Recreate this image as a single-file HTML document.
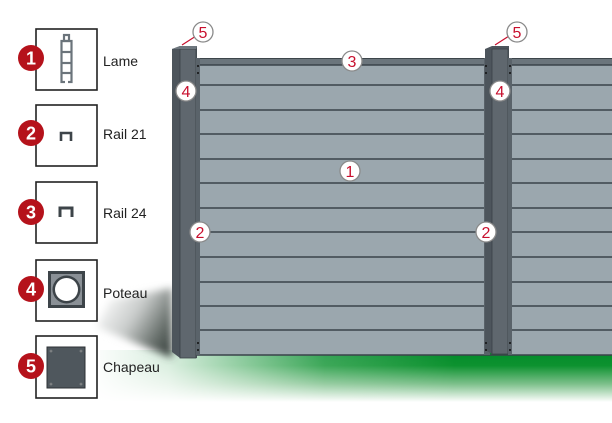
<!DOCTYPE html>
<html><head><meta charset="utf-8"><style>
html,body{margin:0;padding:0;background:#fff;}
svg{display:block;font-family:"Liberation Sans",Arial,sans-serif;}
</style></head><body>
<svg width="612" height="423" viewBox="0 0 612 423" xmlns="http://www.w3.org/2000/svg">
<defs>
<linearGradient id="gv" x1="0" y1="0" x2="0" y2="1">
<stop offset="0" stop-color="#008a2a"/><stop offset="0.3" stop-color="#0d922f"/><stop offset="0.65" stop-color="#7cc08a"/><stop offset="1" stop-color="#ffffff"/>
</linearGradient>
<linearGradient id="gh" x1="0" y1="0" x2="1" y2="0">
<stop offset="0" stop-color="#fff"/><stop offset="0.15" stop-color="#fff" stop-opacity="0.85"/><stop offset="0.45" stop-color="#fff" stop-opacity="0.2"/><stop offset="0.7" stop-color="#fff" stop-opacity="0"/>
</linearGradient>
<linearGradient id="sh" x1="0" y1="0.2" x2="1" y2="0.8">
<stop offset="0" stop-color="#ffffff"/><stop offset="0.45" stop-color="#c9cccb"/><stop offset="0.8" stop-color="#6a726e"/><stop offset="1" stop-color="#3e4743"/>
</linearGradient>
<filter id="bl2"><feGaussianBlur stdDeviation="4"/></filter>
</defs>

<!-- ground -->
<rect x="100" y="350" width="512" height="52" fill="url(#gv)"/>
<rect x="90" y="340" width="522" height="70" fill="url(#gh)"/>
<polygon points="97,327 110,300 172,288 172,358" fill="url(#sh)" filter="url(#bl2)"/>

<!-- panels -->
<rect x="197" y="58" width="290" height="297" fill="#9ba7ae"/>
<rect x="510" y="58" width="102" height="297" fill="#9ba7ae"/>
<rect x="197" y="58" width="290" height="7" fill="#6b757c"/>
<rect x="510" y="58" width="102" height="7" fill="#6b757c"/>
<line x1="197" y1="58.5" x2="612" y2="58.5" stroke="#3d454b"/>
<g stroke="#3a434a" stroke-width="1.4">
<line x1="197" y1="65" x2="612" y2="65"/>
<line x1="197" y1="85" x2="612" y2="85"/>
<line x1="197" y1="110" x2="612" y2="110"/>
<line x1="197" y1="134" x2="612" y2="134"/>
<line x1="197" y1="159" x2="612" y2="159"/>
<line x1="197" y1="183" x2="612" y2="183"/>
<line x1="197" y1="208" x2="612" y2="208"/>
<line x1="197" y1="232" x2="612" y2="232"/>
<line x1="197" y1="257" x2="612" y2="257"/>
<line x1="197" y1="282" x2="612" y2="282"/>
<line x1="197" y1="306" x2="612" y2="306"/>
<line x1="197" y1="330" x2="612" y2="330"/>
<line x1="197" y1="355" x2="612" y2="355"/>
</g>

<!-- post 1 -->
<polygon points="172,49 180,46 197,46 197,358 180,358 172,352" fill="#4d555c"/>
<rect x="180" y="49" width="16" height="309" fill="#5f676e" stroke="#3a4147" stroke-width="0.8"/>
<polygon points="172,49 180,46 197,46 196,49 180,49" fill="#6e777e"/>
<rect x="196" y="58" width="4" height="297" fill="#5a636a"/>
<!-- post 2 -->
<rect x="484" y="58" width="6" height="297" fill="#5a636a"/>
<polygon points="485,49 492,46 509,46 509,354 492,354 485,350" fill="#4d555c"/>
<rect x="492" y="49" width="16" height="305" fill="#5f676e" stroke="#3a4147" stroke-width="0.8"/>
<rect x="508" y="58" width="4" height="297" fill="#5a636a"/>
<g fill="#111">
<circle cx="198" cy="66" r="1"/><circle cx="198" cy="73" r="1"/>
<circle cx="198" cy="343" r="1"/><circle cx="198" cy="350" r="1"/>
<circle cx="486" cy="66" r="1"/><circle cx="486" cy="73" r="1"/>
<circle cx="486" cy="343" r="1"/><circle cx="486" cy="350" r="1"/>
<circle cx="510" cy="66" r="1"/><circle cx="510" cy="73" r="1"/>
<circle cx="510" cy="343" r="1"/><circle cx="510" cy="350" r="1"/>
</g>

<!-- callouts -->
<line x1="182" y1="45" x2="196" y2="36" stroke="#c8102e" stroke-width="1.2"/>
<line x1="495" y1="45" x2="509" y2="36" stroke="#c8102e" stroke-width="1.2"/>
<g fill="#fff" stroke="#8a8a8a" stroke-width="1.3">
<circle cx="203" cy="32" r="10"/><circle cx="517" cy="32" r="10"/>
<circle cx="352" cy="61" r="10"/><circle cx="186" cy="91" r="10"/>
<circle cx="500" cy="91" r="10"/><circle cx="350" cy="171" r="10"/>
<circle cx="200" cy="232" r="10"/><circle cx="486" cy="232" r="10"/>
</g>
<g fill="#c8102e" font-size="16" text-anchor="middle">
<text x="203" y="38">5</text><text x="517" y="38">5</text>
<text x="352" y="67">3</text><text x="186" y="97">4</text>
<text x="500" y="97">4</text><text x="350" y="177">1</text>
<text x="200" y="238">2</text><text x="486" y="238">2</text>
</g>

<!-- legend boxes -->
<g fill="#fff" stroke="#222" stroke-width="1.6">
<rect x="36" y="29" width="61" height="61"/>
<rect x="36" y="105" width="61" height="61"/>
<rect x="36" y="182" width="61" height="61"/>
<rect x="36" y="260" width="61" height="61"/>
<rect x="36" y="336" width="61" height="62"/>
</g>
<!-- lame icon -->
<g fill="none" stroke="#6b747b" stroke-width="2.2">
<rect x="61.5" y="41" width="10" height="41"/>
<line x1="62" y1="52" x2="71" y2="52"/><line x1="62" y1="63" x2="71" y2="63"/><line x1="62" y1="73" x2="71" y2="73"/>
<rect x="64" y="35" width="5" height="6"/>
</g>
<rect x="65" y="76" width="3" height="8" fill="#fff"/>
<!-- rails -->
<path d="M61,141 V133 H71 V141" fill="none" stroke="#3d4449" stroke-width="2.6"/>
<path d="M60,217 V208 H72 V217" fill="none" stroke="#3d4449" stroke-width="3"/>
<!-- poteau -->
<rect x="48" y="271" width="37" height="37" fill="#3d4449"/>
<rect x="51" y="274" width="31" height="31" fill="#8a9096"/>
<circle cx="66.5" cy="289.5" r="14" fill="#3d4449"/>
<circle cx="66.5" cy="289.5" r="11.5" fill="#fff"/>
<!-- chapeau -->
<rect x="47" y="347" width="38" height="41" fill="#4f575d" stroke="#2c3135"/>
<g fill="none" stroke="#999" stroke-width="0.6">
<circle cx="51" cy="351" r="1"/><circle cx="81" cy="351" r="1"/><circle cx="51" cy="384" r="1"/><circle cx="81" cy="384" r="1"/>
</g>

<!-- red badges -->
<g fill="#b5121b">
<circle cx="31" cy="58" r="13"/><circle cx="31" cy="133" r="13"/>
<circle cx="31" cy="212" r="13"/><circle cx="31" cy="289" r="13"/>
<circle cx="31" cy="366" r="13"/>
</g>
<g fill="#fff" font-size="18" font-weight="bold" text-anchor="middle">
<text x="31" y="64.5">1</text><text x="31" y="139.5">2</text>
<text x="31" y="218.5">3</text><text x="31" y="295.5">4</text>
<text x="31" y="372.5">5</text>
</g>
<g fill="#222" font-size="14">
<text x="103" y="66">Lame</text>
<text x="103" y="139">Rail 21</text>
<text x="103" y="218">Rail 24</text>
<text x="103" y="298">Poteau</text>
<text x="103" y="372">Chapeau</text>
</g>
</svg>
</body></html>
